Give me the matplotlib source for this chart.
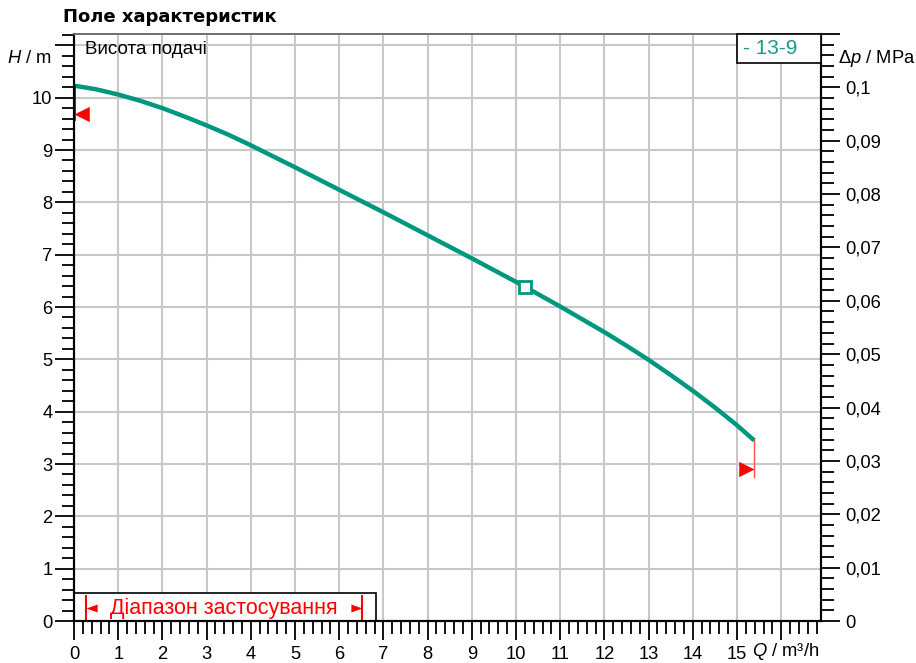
import numpy as np
import matplotlib
matplotlib.use('Agg')
import matplotlib.pyplot as plt
from matplotlib.patches import Rectangle
from matplotlib.ticker import MultipleLocator

plt.rcParams['font.family'] = ['Liberation Sans', 'DejaVu Sans']
plt.rcParams['mathtext.fontset'] = 'custom'
plt.rcParams['mathtext.it'] = 'Liberation Sans:italic'
plt.rcParams['mathtext.rm'] = 'Liberation Sans'

# ---------------- data ----------------
flow_q = [0, 0.5, 1, 1.5, 2, 2.5, 3, 3.5, 4, 5, 6, 7, 8, 9, 10, 11, 12,
          12.5, 13, 13.5, 14, 14.5, 15, 15.39]
head_h = [10.23, 10.16, 10.06, 9.94, 9.80, 9.64, 9.47, 9.29, 9.09, 8.67,
          8.24, 7.81, 7.37, 6.93, 6.48, 6.01, 5.52, 5.26, 4.99, 4.70,
          4.40, 4.08, 3.74, 3.45]
duty_q = [10.2]
duty_h = [6.39]
min_mark_h = 9.69
min_line_low = 9.60
max_mark_h = 2.90
max_line_low = 2.75
range_q = [0.27, 6.52]
range_box_q = 6.84
range_box_h = 0.54
x_ticks = list(range(0, 17))
x_labels = [str(i) for i in range(16)] + ['']
y_ticks = list(range(0, 12))
y_labels = [str(i) for i in range(11)] + ['']
p_ticks = [0, 0.01, 0.02, 0.03, 0.04, 0.05, 0.06, 0.07, 0.08, 0.09, 0.1, 0.11]
p_labels = ['0', '0,01', '0,02', '0,03', '0,04', '0,05', '0,06', '0,07',
            '0,08', '0,09', '0,1', '']
MPA_TO_M = 101.97
P_MAX = 0.11
Q_MAX = 16.9
series_name = '- 13-9'

TEAL = '#00977f'
RED = '#ff0000'
GRID = '#c8c8c8'
FS = 13.2

W, H = 916, 663
fig = plt.figure(figsize=(W / 100, H / 100), dpi=100)
ax = fig.add_axes([74 / W, 42 / H, 747 / W, 587 / H])
ax.set_xlim(0, Q_MAX)
ax.set_ylim(0, P_MAX * MPA_TO_M)

ax.set_xticks(x_ticks)
ax.set_xticklabels(x_labels)
ax.set_yticks(y_ticks)
ax.set_yticklabels(y_labels)
ax.xaxis.set_minor_locator(MultipleLocator(0.2))
ax.yaxis.set_minor_locator(MultipleLocator(0.2))
ax.grid(True, which='major', color=GRID, lw=1.5)
ax.set_axisbelow(True)

ax.tick_params(axis='both', which='major', length=14, width=1.3, labelsize=FS,
               direction='out')
ax.tick_params(axis='both', which='minor', length=9, width=1.3, direction='out')
ax.tick_params(axis='x', which='major', pad=4.2)
ax.tick_params(axis='y', which='major', pad=1.5)
ax.yaxis.get_major_ticks()[-1].tick1line.set_color('#909090')

for s in ['left', 'bottom', 'right']:
    ax.spines[s].set_linewidth(1.5)
    ax.spines[s].set_color('black')
ax.spines['top'].set_color('#707070')
ax.spines['top'].set_linewidth(1.3)

# curve
ax.plot(flow_q, head_h, color=TEAL, lw=3.2, solid_capstyle='butt',
        solid_joinstyle='round', zorder=4, clip_on=False)
ax.plot(duty_q, duty_h, 's', ms=8.5, mfc='white', mec=TEAL, mew=2, zorder=5)

# limit markers
ax.plot([flow_q[0], flow_q[0]], [head_h[0], min_line_low], color='#8b0000',
        lw=2, zorder=6, clip_on=False)
tri_left = [(0, 0), (1, -0.5), (1, 0.5), (0, 0)]
tri_right = [(0, 0), (-1, -0.5), (-1, 0.5), (0, 0)]
ax.plot([flow_q[0]], [min_mark_h], marker=tri_left, ms=22, color=RED,
        mec='none', zorder=6, clip_on=False)
ax.plot([flow_q[-1], flow_q[-1]], [head_h[-1], max_line_low], color='#ff5050',
        lw=1, zorder=3)
ax.plot([flow_q[-1]], [max_mark_h], marker=tri_right, ms=22, color=RED,
        mec='none', zorder=6)

# application range box
ax.add_patch(Rectangle((0, 0), range_box_q, range_box_h, fc='white', ec='black',
                       lw=1.2, zorder=2.5))
ax.vlines(range_q, 0.02, 0.5, color=RED, lw=1.5, zorder=3)
mid_h = 0.24
arrow_l = [(0, 0), (1.4, -0.5), (1.4, 0.5), (0, 0)]
arrow_r = [(0, 0), (-1.4, -0.5), (-1.4, 0.5), (0, 0)]
ax.plot([range_q[0]], [mid_h], marker=arrow_l, ms=16, color=RED, mec='none',
        zorder=3)
ax.plot([range_q[1]], [mid_h], marker=arrow_r, ms=16, color=RED, mec='none',
        zorder=3)
ax.text((range_q[0] + range_q[1]) / 2, mid_h, 'Діапазон застосування',
        color=RED, fontsize=15.5, ha='center', va='center', zorder=3)

# right axis
ax2 = ax.twinx()
ax2.set_ylim(0, P_MAX)
ax2.set_yticks(p_ticks)
ax2.set_yticklabels(p_labels)
ax2.yaxis.set_minor_locator(MultipleLocator(0.002))
ax2.tick_params(axis='y', which='major', length=14, width=1.3, labelsize=FS,
                pad=3.5)
ax2.tick_params(axis='y', which='minor', length=9, width=1.3)
ax2.yaxis.get_major_ticks()[-1].tick2line.set_color('#909090')
for s in ['left', 'bottom', 'right']:
    ax2.spines[s].set_linewidth(1.5)
ax2.spines['top'].set_color('#707070')
ax2.spines['top'].set_linewidth(1.3)

# legend box
ax2.add_patch(Rectangle((663 / 747, 1 - 29 / 587), 84 / 747, 29 / 587,
                        transform=ax2.transAxes, fc='white', ec='black',
                        lw=1.2, zorder=10, clip_on=False))
ax2.text(669 / 747, 1 - 14.5 / 587, series_name, transform=ax2.transAxes,
         color='#1a9a85', fontsize=15, ha='left', va='center', zorder=11)

# texts
ax.text(11 / 747, (621 - 54) / 587, 'Висота подачі', transform=ax.transAxes,
        fontsize=13.5, ha='left', va='baseline')
fig.text(63 / W, 1 - 22.5 / H, 'Поле характеристик', fontsize=13,
         fontweight='bold', family='DejaVu Sans', ha='left', va='baseline')
fig.text(7 / W, 1 - 63 / H, '$H$ / m', fontsize=FS, ha='left', va='baseline')
fig.text(838 / W, 1 - 63 / H, '$Δp$ / MPa', fontsize=FS, ha='left',
         va='baseline')
fig.text(752 / W, 1 - 656.5 / H, '$Q$ / m³/h', fontsize=FS, ha='left',
         va='baseline')

fig.savefig('out.png', dpi=100)
